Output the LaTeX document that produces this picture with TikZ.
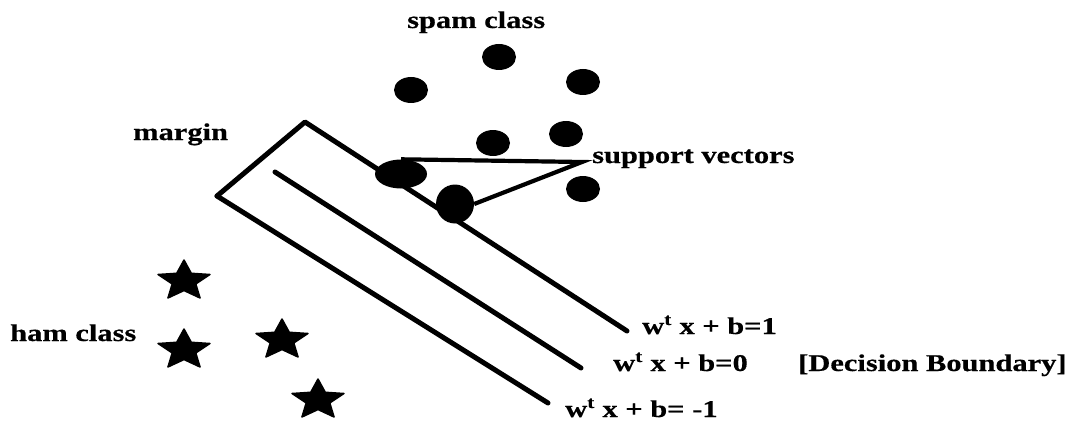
\documentclass[tikz,border=0pt]{standalone}
\usepackage{fontspec}
\newfontfamily\lblfont{Liberation Serif}[FakeStretch=1.27,FakeBold=0.5,UprightFont=*-Bold,BoldFont=*-Bold]
\usetikzlibrary{shapes.geometric}
\tikzset{
  lbl/.style={font=\lblfont\fontsize{24}{28}\selectfont, inner sep=0pt, anchor=base west, text=black},
  spamdot/.style={ellipse, fill=black, inner sep=0pt, minimum width=34pt, minimum height=26pt},
  hamstar/.style={star, star points=5, star point ratio=2.2, fill=black, draw=black, line width=1.5pt, line join=round, inner sep=0pt, minimum size=42pt, xscale=1.3},
  hyper/.style={line width=5pt, line cap=round, line join=round},
  svline/.style={line width=4.2pt, line join=miter}
}
\begin{document}
\begin{tikzpicture}[x=1pt,y=-1pt]
\useasboundingbox (0,0) rectangle (1075,425);
% coordinates of the hyperplanes
\coordinate (A) at (305,122);
\coordinate (B) at (627,331);
\coordinate (C) at (217,196);
\coordinate (D) at (548,403);
\coordinate (E) at (275,172);
\coordinate (F) at (581,368);
\coordinate (apex) at (582,162);
% lines
\draw[hyper] (C) -- (A) -- (B);
\draw[hyper] (E) -- (F);
\draw[hyper] (C) -- (D);
% support vectors
\node[ellipse, fill=black, inner sep=0pt, minimum width=52pt, minimum height=29pt] (sv1) at (401,174) {};
\node[ellipse, fill=black, inner sep=0pt, minimum width=38pt, minimum height=39pt] (sv2) at (455,204) {};
\draw[svline] (sv1.north) -- (apex) -- (sv2.east);
% spam dots
\node[spamdot] (d1) at (411,90) {};
\node[spamdot] (d2) at (499,57) {};
\node[spamdot] (d3) at (583,82) {};
\node[spamdot] (d4) at (493,143) {};
\node[spamdot] (d5) at (566,134) {};
\node[spamdot] (d6) at (583,189) {};
% ham stars
\node[hamstar] (s1) at (184,281) {};
\node[hamstar] (s2) at (184,350) {};
\node[hamstar] (s3) at (282,340) {};
\node[hamstar] (s4) at (318,400) {};
% labels
\node[lbl] (spam) at (407,28) {spam class};
\node[lbl] (margin) at (133,140) {margin};
\node[lbl] (sv) at (592,163) {support vectors};
\node[lbl] (ham) at (10,341) {ham class};
\node[lbl] (h1) at (642,334) {w\textsuperscript{t} x + b=1};
\node[lbl] (h0) at (613,371) {w\textsuperscript{t} x + b=0};
\node[lbl] (db) at (798,371) {[Decision Boundary]};
\node[lbl] (hm) at (565,417) {w\textsuperscript{t} x + b= -1};
\end{tikzpicture}
\end{document}
